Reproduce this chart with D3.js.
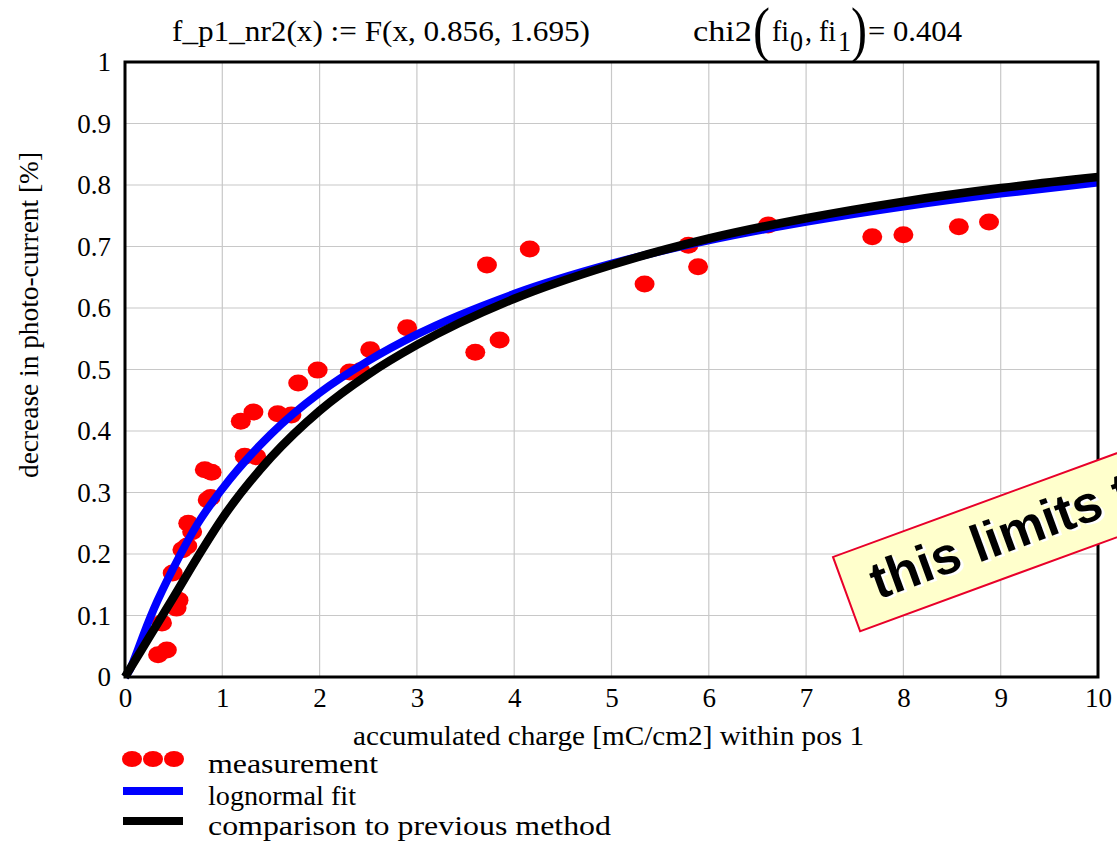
<!DOCTYPE html>
<html>
<head>
<meta charset="utf-8">
<script src="https://cdn.jsdelivr.net/npm/d3@7"></script>
<style>
  body { margin: 0; background: #fff; }
  svg { display: block; }
</style>
</head>
<body>
<div id="chart"></div>
<script>
const measX = [0.34, 0.43, 0.38, 0.53, 0.55, 0.49, 0.59, 0.64, 0.65, 0.69, 0.85, 0.88, 0.82, 0.89,
  1.23, 1.35, 1.19, 1.32, 1.57, 1.71, 1.78, 1.98, 2.31, 2.42, 2.52, 2.9, 3.6, 3.85, 3.72, 4.16,
  5.34, 5.79, 5.89, 6.61, 7.68, 8.0, 8.57, 8.88];
const measY = [0.036, 0.044, 0.088, 0.112, 0.125, 0.169, 0.207, 0.213, 0.25, 0.236, 0.288, 0.292, 0.337, 0.333,
  0.359, 0.358, 0.416, 0.431, 0.428, 0.426, 0.478, 0.499, 0.496, 0.498, 0.532, 0.568, 0.528, 0.548, 0.67, 0.696,
  0.639, 0.702, 0.667, 0.735, 0.716, 0.719, 0.732, 0.74];

// lognormal fit curve
const fitX = [0, 0.05, 0.1, 0.2, 0.3, 0.5, 0.75, 1, 1.5, 2, 2.5, 3, 4, 5, 6, 7, 8, 9, 10];
const fitY = [0, 0.012, 0.031, 0.073, 0.112, 0.178, 0.25, 0.306, 0.395, 0.462, 0.514, 0.557, 0.623, 0.672, 0.71, 0.74, 0.765, 0.786, 0.804];

// comparison to previous method
const cmpX = [0, 0.1, 0.25, 0.5, 0.75, 1, 1.5, 2, 2.5, 3, 4, 5, 6, 7, 8, 9, 10];
const cmpY = [0, 0.026, 0.065, 0.13, 0.196, 0.258, 0.357, 0.433, 0.492, 0.54, 0.615, 0.67, 0.713, 0.746, 0.773, 0.795, 0.813];

const xTicks = [0, 1, 2, 3, 4, 5, 6, 7, 8, 9, 10];
const yTicks = [0, 0.1, 0.2, 0.3, 0.4, 0.5, 0.6, 0.7, 0.8, 0.9, 1];
const legendLabels = ["measurement", "lognormal fit", "comparison to previous method"];
const legendWidths = [170, 148, 403];

const serif = "'Liberation Serif', 'Times New Roman', serif";
const size = { width: 1117, height: 845, margin: { top: 62, right: 19, bottom: 168, left: 125 } };
const w = size.width - size.margin.left - size.margin.right;
const h = size.height - size.margin.top - size.margin.bottom;

const xScale = d3.scaleLinear().domain([0, 10]).range([0, w]);
const yScale = d3.scaleLinear().domain([0, 1]).range([h, 0]);

const svg = d3.select("#chart").append("svg")
  .attr("width", size.width)
  .attr("height", size.height)
  .style("font-family", serif);

const g = svg.append("g").attr("transform", `translate(${size.margin.left}, ${size.margin.top})`);

// grid
g.append("g").selectAll("line").data(xTicks).enter().append("line")
  .attr("x1", d => xScale(d)).attr("x2", d => xScale(d))
  .attr("y1", 0).attr("y2", h)
  .attr("stroke", "#c8c8c8").attr("stroke-width", 1.2);
g.append("g").selectAll("line").data(yTicks).enter().append("line")
  .attr("y1", d => yScale(d)).attr("y2", d => yScale(d))
  .attr("x1", 0).attr("x2", w)
  .attr("stroke", "#c8c8c8").attr("stroke-width", 1.2);

// axes (labels only)
const xAxis = g.append("g").attr("transform", `translate(0, ${h})`)
  .call(d3.axisBottom(xScale).tickValues(xTicks).tickSize(0).tickPadding(8).tickFormat(d3.format("d")));
const yAxis = g.append("g")
  .call(d3.axisLeft(yScale).tickValues(yTicks).tickSize(0).tickPadding(14).tickFormat(d => d === 0 || d === 1 ? d : d3.format(".1f")(d)));
[xAxis, yAxis].forEach(a => {
  a.select(".domain").remove();
  a.attr("font-family", null).attr("font-size", null);
  a.selectAll("text").style("font-family", serif).style("font-size", "27px").attr("fill", "#000");
});
xAxis.selectAll("text").attr("dy", "0.8em");

// measurement dots
g.append("g").selectAll("ellipse").data(measX.map((x, i) => ({ x, y: measY[i] }))).enter()
  .append("ellipse")
  .attr("cx", d => xScale(d.x)).attr("cy", d => yScale(d.y))
  .attr("rx", 10).attr("ry", 8.5)
  .attr("fill", "#ff0000");

const line = d3.line().x(d => xScale(d.x)).y(d => yScale(d.y)).curve(d3.curveMonotoneX);

g.append("path")
  .attr("d", line(fitX.map((x, i) => ({ x, y: fitY[i] }))))
  .attr("fill", "none").attr("stroke", "#0000ff").attr("stroke-width", 8);

g.append("path")
  .attr("d", line(cmpX.map((x, i) => ({ x, y: cmpY[i] }))))
  .attr("fill", "none").attr("stroke", "#000").attr("stroke-width", 8.5);

// frame
g.append("rect").attr("width", w).attr("height", h)
  .attr("fill", "none").attr("stroke", "#000").attr("stroke-width", 3);

// axis titles
svg.append("text")
  .attr("x", 353).attr("y", 745).style("font-size", "28px")
  .attr("textLength", 511).attr("lengthAdjust", "spacingAndGlyphs")
  .text("accumulated charge [mC/cm2] within pos 1");
svg.append("text")
  .attr("transform", "translate(38, 478) rotate(-90)")
  .style("font-size", "27px")
  .attr("textLength", 326).attr("lengthAdjust", "spacingAndGlyphs")
  .text("decrease in photo-current [%]");

// header formulas
svg.append("text").attr("x", 172).attr("y", 41).style("font-size", "29px")
  .attr("textLength", 418).attr("lengthAdjust", "spacingAndGlyphs")
  .text("f_p1_nr2(x) := F(x, 0.856, 1.695)");
const chi = svg.append("g").style("font-size", "29px");
const chiParts = [
  { t: "chi2", x: 693, y: 41, len: 59 },
  { t: "(", x: 753, y: 50, len: 17, fs: 62 },
  { t: "fi", x: 772, y: 41, len: 17 },
  { t: "0", x: 790, y: 51, len: 13 },
  { t: ", fi", x: 805, y: 41, len: 31 },
  { t: "1", x: 838, y: 51, len: 13 },
  { t: ")", x: 851, y: 50, len: 16, fs: 62 },
  { t: "= 0.404", x: 868, y: 41, len: 94 }
];
chi.selectAll("text").data(chiParts).enter().append("text")
  .attr("x", d => d.x).attr("y", d => d.y)
  .style("font-size", d => d.fs ? d.fs + "px" : null)
  .attr("textLength", d => d.len).attr("lengthAdjust", "spacingAndGlyphs")
  .text(d => d.t);

// legend
const legend = svg.append("g");
legend.selectAll("ellipse").data([0, 1, 2]).enter().append("ellipse")
  .attr("cx", d => 132 + d * 21).attr("cy", 759).attr("rx", 10).attr("ry", 8).attr("fill", "#ff0000");
legend.append("line").attr("x1", 123).attr("x2", 183).attr("y1", 791).attr("y2", 791)
  .attr("stroke", "#0000ff").attr("stroke-width", 8);
legend.append("line").attr("x1", 123).attr("x2", 183).attr("y1", 821).attr("y2", 821)
  .attr("stroke", "#000").attr("stroke-width", 8);
legend.selectAll("text").data(legendLabels).enter().append("text")
  .attr("x", 208).attr("y", (d, i) => [773, 805, 835][i]).style("font-size", "28px")
  .attr("textLength", (d, i) => legendWidths[i]).attr("lengthAdjust", "spacingAndGlyphs")
  .text(d => d);

// note banner
const note = svg.append("g").attr("transform", "translate(833, 557) rotate(-20.1)");
note.append("rect").attr("width", 420).attr("height", 79)
  .attr("fill", "#ffffcc").attr("stroke", "#e8002a").attr("stroke-width", 2);
["#fff", "#000"].forEach((c, i) => {
  note.append("text").attr("x", 30 - i * 2.5).attr("y", 58 - i * 2.5)
    .style("font-family", "'Liberation Sans', Arial, sans-serif").style("font-weight", "bold").style("font-size", "52px")
    .attr("fill", c).text("this limits the fit");
});
</script>
</body>
</html>
